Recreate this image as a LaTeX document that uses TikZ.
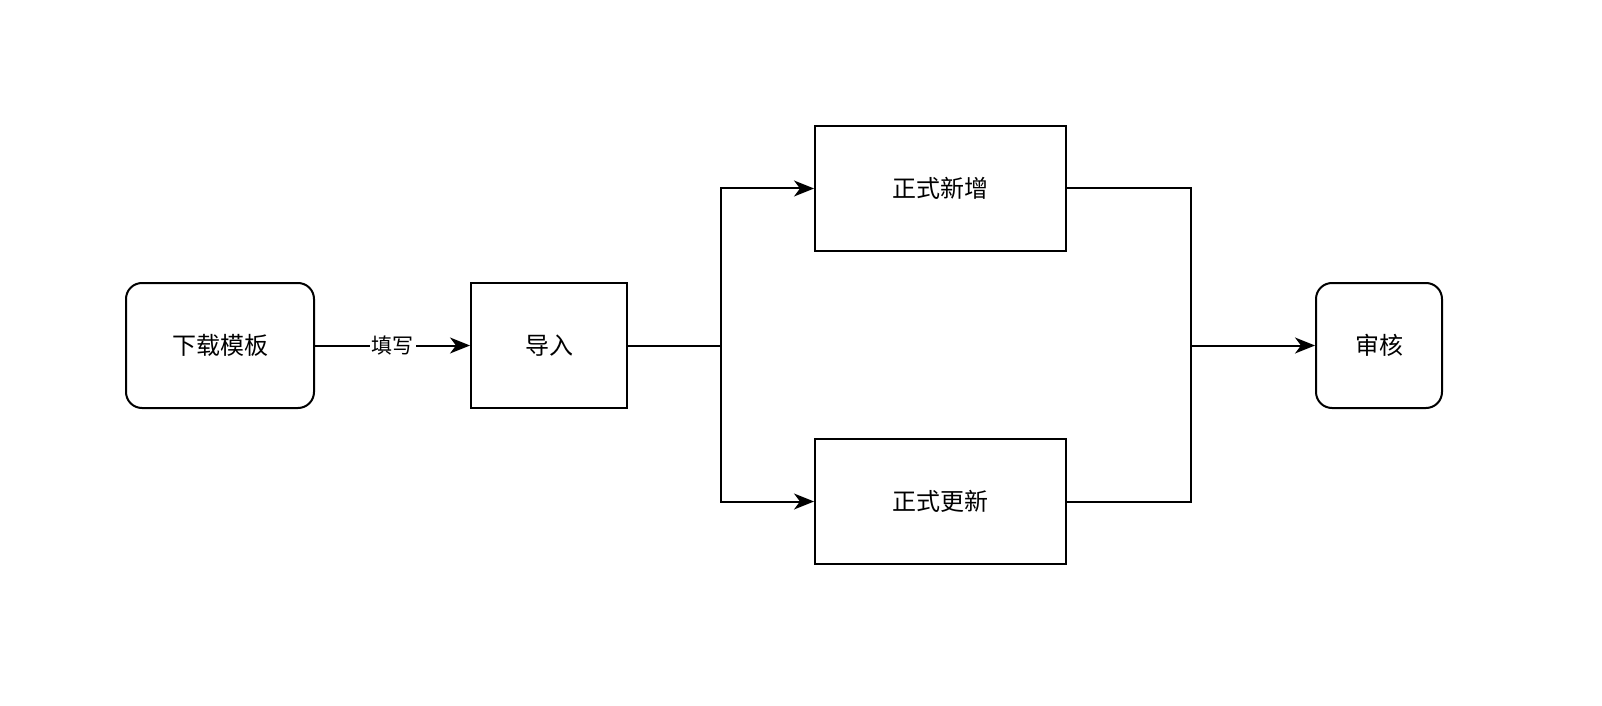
\documentclass[tikz,border=0pt]{standalone}
\usepackage{fontspec}
\setmainfont{Noto Sans CJK SC}
\usetikzlibrary{arrows.meta}

\begin{document}
\begin{tikzpicture}[x=0.5pt, y=-0.5pt, >={Stealth[length=10pt,width=8pt,inset=3pt]}, line width=1pt,
    step box/.style={draw, minimum height=62.5pt, font=\fontsize{12pt}{14pt}\selectfont, inner sep=0pt},
    round box/.style={step box, rounded corners=8pt}]
    \useasboundingbox (0,0) rectangle (1602,706);
    % Nodes {download, import, add, update, review}
    \node [round box, minimum width=94pt]   (download) at (220,345.5)   {下载模板};
    \node [step box, minimum width=78pt]    (import)   at (549,345.5)   {导入};
    \node [step box, minimum width=125.5pt] (add)      at (940.5,188.5) {正式新增};
    \node [step box, minimum width=125.5pt] (update)   at (940.5,501.5) {正式更新};
    \node [round box, minimum width=63pt]   (review)   at (1379,345.5)  {审核};

    % Branch points
    \coordinate (split) at (721,345.5);
    \coordinate (join)  at (1191,345.5);

    % Paths
    \path [->] (download) edge node [fill=white, inner sep=1pt, font=\fontsize{10.5pt}{12pt}\selectfont] {填写} (import);
    \draw [->] (import.east) -- (split) |- (add.west);
    \draw [->] (split) |- (update.west);
    \draw (add.east) -| (join);
    \draw (update.east) -| (join);
    \draw [->] (join) -- (review.west);
\end{tikzpicture}
\end{document}
